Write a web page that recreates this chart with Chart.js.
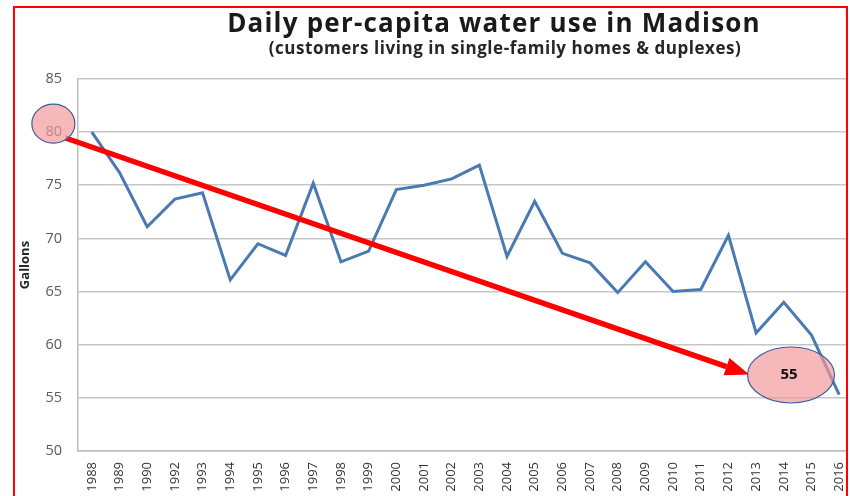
<!DOCTYPE html>
<html>
<head>
<meta charset="utf-8">
<script src="https://cdn.jsdelivr.net/npm/chart.js@4.4.1/dist/chart.umd.min.js"></script>
<style>
    html, body { margin: 0; padding: 0; background: #fff; overflow: hidden; }
    #wrap { position: relative; width: 850px; height: 496px; overflow: hidden; }
    #chart { position: absolute; left: 0; top: 0; }
    .ttl { position: absolute; white-space: nowrap; transform: translateX(-50%); font-family: "Open Sans", Lato, sans-serif; font-weight: bold; line-height: 1; }
    #title { left: 494px; top: 9px; font-size: 26px; letter-spacing: 1.2px; color: #1a1a1a; }
    #subtitle { left: 505px; top: 39px; font-size: 17px; letter-spacing: 0.55px; color: #262626; }
    #frame { position: absolute; left: 13px; top: 6px; width: 831px; height: 520px; border: 2px solid #ff0000; pointer-events: none; }
    #edge { position: absolute; left: 848px; top: 0; width: 10px; height: 496px; background: #fff; }
</style>
</head>
<body>
<div id="wrap">
    <canvas id="chart" width="856" height="496"></canvas>
    <div id="edge"></div>
    <div id="title" class="ttl">Daily per-capita water use in Madison</div>
    <div id="subtitle" class="ttl">(customers living in single-family homes &amp; duplexes)</div>
    <div id="frame"></div>
</div>
<script>
// Years on the x axis (1991 is not in the source table)
const years = ['1988', '1989', '1990', '1992', '1993', '1994', '1995', '1996', '1997', '1998',
    '1999', '2000', '2001', '2002', '2003', '2004', '2005', '2006', '2007', '2008',
    '2009', '2010', '2011', '2012', '2013', '2014', '2015', '2016'];

// Gallons per person per day
const gallons = [80.0, 76.2, 71.1, 73.7, 74.3, 66.1, 69.5, 68.4, 75.2, 67.8,
    68.8, 74.6, 75.0, 75.6, 76.9, 68.3, 73.5, 68.6, 67.7, 64.9,
    67.8, 65.0, 65.2, 70.3, 61.1, 64.0, 60.9, 55.3];

const yTicks = [50, 55, 60, 65, 70, 75, 80, 85];

// Hand-drawn callouts: start bubble, end bubble with its label
const startBubble = { x: -1.39, y: 80.8, rx: 21.5, ry: 19.5 };
const endBubble = { x: 25.26, y: 57.15, rx: 43.5, ry: 28, label: '55' };
const arrowFrom = { x: -0.95, y: 79.45 };
const arrowTo = { x: 23.75, y: 57.2 };

function bubble(ctx, cx, cy, rx, ry) {
    ctx.beginPath();
    ctx.ellipse(cx, cy, rx, ry, 0, 0, Math.PI * 2);
    ctx.fillStyle = 'rgba(242, 150, 150, 0.68)';
    ctx.fill();
    ctx.lineWidth = 1.2;
    ctx.strokeStyle = '#3d5c9e';
    ctx.stroke();
}

const calloutPlugin = {
    id: 'callouts',
    afterDatasetsDraw: function(chart) {
        const ctx = chart.ctx;
        const xs = chart.scales.x;
        const ys = chart.scales.y;

        const x1 = xs.getPixelForValue(arrowFrom.x), y1 = ys.getPixelForValue(arrowFrom.y);
        const x2 = xs.getPixelForValue(arrowTo.x), y2 = ys.getPixelForValue(arrowTo.y);
        const ang = Math.atan2(y2 - y1, x2 - x1);
        const headLen = 24, headHalf = 9;
        const bx = x2 - headLen * Math.cos(ang), by = y2 - headLen * Math.sin(ang);

        ctx.save();
        ctx.strokeStyle = '#ff0000';
        ctx.fillStyle = '#ff0000';
        ctx.lineWidth = 5.5;
        ctx.beginPath();
        ctx.moveTo(x1, y1);
        ctx.lineTo(bx, by);
        ctx.stroke();
        ctx.beginPath();
        ctx.moveTo(x2, y2);
        ctx.lineTo(bx + headHalf * Math.sin(ang), by - headHalf * Math.cos(ang));
        ctx.lineTo(bx - headHalf * Math.sin(ang), by + headHalf * Math.cos(ang));
        ctx.closePath();
        ctx.fill();

        bubble(ctx, xs.getPixelForValue(startBubble.x), ys.getPixelForValue(startBubble.y), startBubble.rx, startBubble.ry);

        const ex = xs.getPixelForValue(endBubble.x), ey = ys.getPixelForValue(endBubble.y);
        bubble(ctx, ex, ey, endBubble.rx, endBubble.ry);
        ctx.fillStyle = '#111';
        ctx.font = 'bold 15px "Open Sans", Lato, sans-serif';
        ctx.textAlign = 'center';
        ctx.textBaseline = 'middle';
        ctx.fillText(endBubble.label, ex - 2, ey);
        ctx.restore();
    }
};

const ctx = document.getElementById('chart');
ctx.chart = new Chart(ctx, {
    type: 'line',
    data: {
        labels: years,
        datasets: [{
            label: 'Gallons',
            data: gallons,
            borderColor: '#4a7ab2',
            backgroundColor: '#4a7ab2',
            borderWidth: 3,
            fill: false,
            tension: 0,
            pointRadius: 0
        }]
    },
    options: {
        responsive: false,
        animation: false,
        layout: {
            padding: { top: 79, right: 3, bottom: 0, left: 0 }
        },
        plugins: {
            legend: { display: false },
            tooltip: { enabled: false }
        },
        scales: {
            x: {
                offset: true,
                grid: { display: false, drawTicks: false },
                border: { display: true, color: '#bdbdbd', width: 1.5 },
                ticks: {
                    minRotation: 90,
                    maxRotation: 90,
                    autoSkip: false,
                    padding: 11,
                    color: '#333333',
                    font: { family: '"Open Sans", Lato, sans-serif', size: 13 }
                },
                afterFit: function(scale) {
                    // the rotated labels sit inside the offset bands, no side padding needed
                    scale.height = 45;
                    scale.paddingLeft = 0;
                    scale.paddingRight = 0;
                }
            },
            y: {
                min: 50,
                max: 85,
                afterBuildTicks: function(scale) {
                    scale.ticks = yTicks.map(function(v) { return { value: v }; });
                },
                grid: { color: '#c6c6c6', lineWidth: 1.6, drawTicks: false },
                border: { display: true, color: '#bdbdbd', width: 1.5 },
                ticks: {
                    padding: 16,
                    color: '#595959',
                    font: { family: '"Open Sans", Lato, sans-serif', size: 14.5 }
                },
                title: {
                    display: true,
                    text: 'Gallons',
                    color: '#262626',
                    padding: { top: 17, bottom: 0 },
                    font: { family: '"Open Sans", Lato, sans-serif', size: 13, weight: 'bold' }
                },
                afterFit: function(scale) { scale.width = 78; }
            }
        }
    },
    plugins: [calloutPlugin]
});
</script>
</body>
</html>
